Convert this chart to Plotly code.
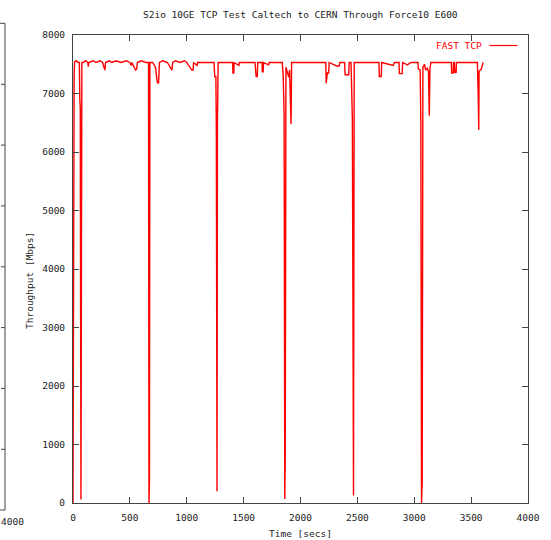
import plotly.graph_objects as go

# ---- data ----
time_s = [0, 2, 5, 10, 14, 30, 45, 56, 60, 64, 70, 74, 78, 90, 110, 130, 134, 138, 180, 200,
          240, 260, 272, 280, 286, 320, 340, 380, 420, 470, 500, 512, 518, 550, 560, 566, 600,
          640, 664, 668, 672, 676, 700, 725, 740, 752, 760, 790, 830, 869, 877, 900, 940, 980,
          1000, 1044, 1056, 1060, 1090, 1095, 1150, 1240, 1246, 1256, 1260, 1263, 1266, 1270,
          1276, 1300, 1404, 1406, 1414, 1416, 1458, 1462, 1600, 1610, 1620, 1624, 1662, 1665,
          1672, 1675, 1720, 1725, 1840, 1848, 1856, 1862, 1866, 1872, 1884, 1896, 1904, 1912,
          1917, 1922, 2000, 2100, 2222, 2226, 2236, 2248, 2252, 2318, 2340, 2346, 2388, 2392,
          2424, 2428, 2444, 2450, 2456, 2466, 2472, 2600, 2690, 2693, 2710, 2714, 2814, 2828,
          2866, 2869, 2894, 2898, 2940, 2970, 3033, 3036, 3052, 3058, 3064, 3070, 3076, 3090,
          3100, 3115, 3125, 3132, 3138, 3146, 3250, 3326, 3329, 3342, 3345, 3353, 3356, 3362,
          3368, 3371, 3555, 3560, 3563, 3567, 3570, 3590, 3600, 3605]
throughput_mbps = [0, 3550, 7250, 7300, 7540, 7560, 7530, 7530, 6900, 6750, 60, 6700, 7530, 7530,
                   7560, 7530, 7460, 7530, 7560, 7530, 7560, 7530, 7430, 7400, 7530, 7560, 7530,
                   7560, 7530, 7560, 7530, 7480, 7530, 7400, 7420, 7530, 7560, 7530, 7530, 0,
                   370, 7530, 7530, 7450, 7200, 7170, 7530, 7560, 7530, 7400, 7530, 7560, 7530,
                   7560, 7530, 7400, 7400, 7530, 7480, 7530, 7530, 7530, 7290, 7290, 6400, 3100,
                   200, 6500, 7530, 7530, 7530, 7350, 7350, 7530, 7480, 7530, 7530, 7290, 7290,
                   7530, 7530, 7370, 7370, 7530, 7490, 7530, 7530, 7300, 6630, 70, 830, 7450,
                   7350, 7280, 7400, 6950, 6480, 7530, 7530, 7530, 7530, 7175, 7350, 7350, 7530,
                   7470, 7470, 7530, 7530, 7320, 7320, 7530, 7530, 7060, 6550, 130, 7530, 7530,
                   7530, 7290, 7290, 7530, 7480, 7530, 7530, 7340, 7340, 7530, 7490, 7530, 7530,
                   7420, 7400, 6500, 0, 370, 7450, 7500, 7400, 7430, 7380, 6620, 7420, 7530, 7530,
                   7530, 7350, 7350, 7530, 7530, 7350, 7400, 7350, 7530, 7530, 7300, 6900, 6380,
                   7380, 7420, 7500, 7530]

x_ticks = [0, 500, 1000, 1500, 2000, 2500, 3000, 3500, 4000]
y_ticks = [0, 1000, 2000, 3000, 4000, 5000, 6000, 7000, 8000]
series_name = "FAST TCP"
title_text = "S2io 10GE TCP Test Caltech to CERN Through Force10 E600"
x_title = "Time [secs]"
y_title = "Throughput [Mbps]"

# ---- layout constants (pixels) ----
W, H = 551, 540
ML, MR, MT, MB = 73, 23, 35, 37
PW, PH = W - ML - MR, H - MT - MB
FONT = "DejaVu Sans Mono"
FS = 9.5
RED = "#ff0000"
AX = "#444444"


def px(xp):
    return (xp - ML) / PW


def py(yp):
    return (H - MB - yp) / PH


fig = go.Figure()
fig.add_trace(go.Scatter(x=time_s, y=throughput_mbps, mode="lines",
                         line=dict(color=RED, width=1.4), name=series_name,
                         showlegend=False))

axis_common = dict(showgrid=False, zeroline=False, showline=True, mirror="allticks",
                   linecolor=AX, linewidth=1, ticks="inside", ticklen=6, tickcolor=AX,
                   tickwidth=1, tickfont=dict(family=FONT, size=FS, color="#222222"))
fig.update_xaxes(range=[0, 4000], tickvals=x_ticks, ticktext=[str(v) for v in x_ticks],
                 ticklabelstandoff=6, **axis_common)
fig.update_yaxes(range=[0, 8000], tickvals=y_ticks, ticktext=[str(v) for v in y_ticks],
                 ticklabelstandoff=5, **axis_common)

annotations = [
    dict(text=title_text, x=px(300.5), y=py(15), xref="paper", yref="paper",
         showarrow=False, xanchor="center", yanchor="middle",
         font=dict(family=FONT, size=FS, color="#222222")),
    dict(text=x_title, x=px(300.5), y=py(533), xref="paper", yref="paper",
         showarrow=False, xanchor="center", yanchor="middle",
         font=dict(family=FONT, size=FS, color="#222222")),
    dict(text=y_title, x=px(29), y=py(281), xref="paper", yref="paper", textangle=-90,
         showarrow=False, xanchor="center", yanchor="middle",
         font=dict(family=FONT, size=FS, color="#222222")),
    dict(text=series_name, x=px(484), y=py(45.5), xref="paper", yref="paper",
         showarrow=False, xanchor="right", yanchor="middle",
         font=dict(family=FONT, size=FS, color=RED)),
    dict(text="4000", x=px(0.5), y=py(521), xref="paper", yref="paper",
         showarrow=False, xanchor="left", yanchor="middle", xshift=-2,
         font=dict(family=FONT, size=FS, color="#222222")),
]

shapes = [
    # legend sample line
    dict(type="line", xref="paper", yref="paper", x0=px(489.5), x1=px(517.5),
         y0=py(45.5), y1=py(45.5), line=dict(color=RED, width=1.2)),
    # neighbouring chart edge seen at the far left
    dict(type="line", xref="paper", yref="paper", x0=px(5), x1=px(5),
         y0=py(23.3), y1=py(510), line=dict(color=AX, width=1)),
    dict(type="line", xref="paper", yref="paper", x0=px(0), x1=px(5),
         y0=py(23.3), y1=py(23.3), line=dict(color=AX, width=1)),
    dict(type="line", xref="paper", yref="paper", x0=px(0), x1=px(5),
         y0=py(510), y1=py(510), line=dict(color=AX, width=1)),
]
for ty in [84.3, 145.1, 205.9, 266.8, 327.6, 388.4, 449.3]:
    shapes.append(dict(type="line", xref="paper", yref="paper", x0=px(1), x1=px(5),
                       y0=py(ty), y1=py(ty), line=dict(color=AX, width=1)))

fig.update_layout(width=W, height=H, margin=dict(l=ML, r=MR, t=MT, b=MB),
                  paper_bgcolor="white", plot_bgcolor="white", showlegend=False,
                  annotations=annotations, shapes=shapes)

fig.write_html("out.html", config={"displayModeBar": False},
               post_script="document.body.style.margin='0';document.body.style.overflow='hidden';")
